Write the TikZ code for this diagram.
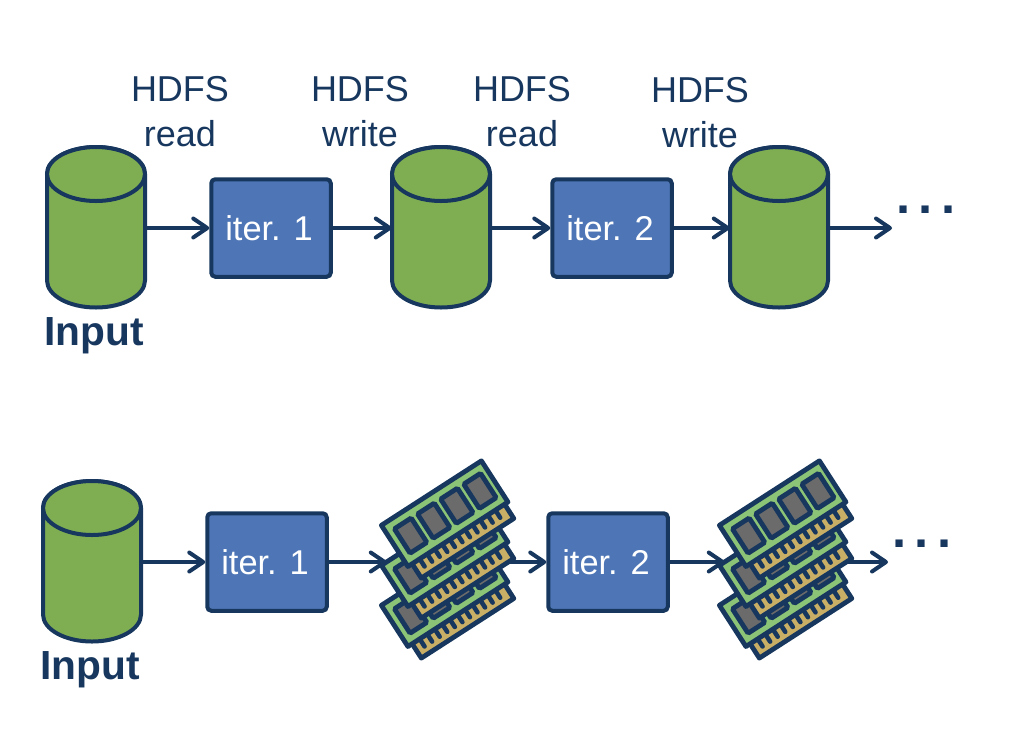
\documentclass[tikz,border=0pt]{standalone}
\usepackage{fontspec}
\setmainfont{Liberation Sans}
\usetikzlibrary{arrows.meta}
\definecolor{navy}{HTML}{17375E}
\definecolor{cylgreen}{HTML}{7FAE52}
\definecolor{iterblue}{HTML}{4E76B6}
\definecolor{boardgreen}{HTML}{8CC477}
\definecolor{chipgrey}{HTML}{6B6B6B}
\definecolor{contacttan}{HTML}{C9AE66}
\tikzset{
  x=0.75pt,y=-0.75pt,
  iterbox/.style={draw=navy,fill=iterblue,line width=3pt,rounded corners=3pt,minimum width=119.5*0.75pt,minimum height=97.5*0.75pt,inner sep=0pt,text=white,font=\fontsize{25.8}{30}\selectfont},
  cylanchor/.style={minimum width=98*0.75pt,minimum height=160*0.75pt,inner sep=0pt},
  ramanchor/.style={minimum width=120*0.75pt,minimum height=100*0.75pt,inner sep=0pt},
  cylshape/.style={draw=navy,fill=cylgreen,line width=3pt},
  flow/.style={draw=navy,line width=3pt,-{Straight Barb[length=14*0.75pt,width=19*0.75pt,line width=3pt,round]}},
  toplabel/.style={text=navy,align=center,font=\fontsize{27}{33.8}\selectfont},
  inputlabel/.style={text=navy,font=\bfseries\fontsize{30.5}{36}\selectfont,anchor=base},
  dotslabel/.style={text=navy,font=\bfseries\fontsize{38}{40}\selectfont,anchor=base},
  boardstyle/.style={draw=navy,fill=boardgreen,line width=3.6pt,line join=round},
  stripstyle/.style={draw=navy,fill=contacttan,line width=3.6pt,line join=round},
  chipstyle/.style={draw=navy,fill=chipgrey,line width=3.6pt,rounded corners=1pt},
  toothstyle/.style={draw=navy,line width=3.4pt,line cap=round},
}
\newcommand{\mycyl}[3]{%
  \node[cylanchor] (#1) at (#2,#3) {};
  \begin{scope}[shift={(#2,#3)}]
    \path[cylshape] (-49,-54) -- (-49,52.5) arc[start angle=180,end angle=0,x radius=49,y radius=27] -- (49,-54)
      arc[start angle=0,end angle=-180,x radius=49,y radius=27];
    \path[cylshape] (0,-54) ellipse[x radius=49,y radius=27];
  \end{scope}}
\newcommand{\mymodule}[2]{%
  \begin{scope}[shift={(#1,#2)},rotate=32.8]
    \path[stripstyle] (6,49) -- (6,67) -- (116,67) -- (116,49) -- cycle;
    \foreach \t in {15,24,...,112} {\draw[toothstyle] (\t,50) -- (\t,59);}
    \path[boardstyle] (1,1) rectangle (120,50);
    \foreach \c in {20,47.5,75,102.5} {\path[chipstyle] (\c-10,11) rectangle (\c+10,40);}
  \end{scope}}
\begin{document}
\begin{tikzpicture}
\useasboundingbox (0,0) rectangle (1012,744);
% top row
\mycyl{ca}{96}{228}
\node[iterbox] (ra) at (271,228) {iter. 1\kern 3pt};
\mycyl{cb}{441}{228}
\node[iterbox] (rb) at (612,228) {iter. 2\kern 3pt};
\mycyl{cc}{779}{228}
\coordinate (enda) at (892,228);
\draw[flow] (ca.east) -- (ra.west);
\draw[flow] (ra.east) -- (cb.west);
\draw[flow] (cb.east) -- (rb.west);
\draw[flow] (rb.east) -- (cc.west);
\draw[flow] (cc.east) -- (enda);
\node[toplabel] (la) at (180,112) {HDFS\\read};
\node[toplabel] (lb) at (360,112) {HDFS\\write};
\node[toplabel] (lc) at (522,112) {HDFS\\read};
\node[toplabel] (ld) at (700,113) {HDFS\\write};
\node[inputlabel] (ia) at (94,345) {Input};
\node[dotslabel] (da) at (926,213) {.\kern 6pt.\kern 6pt.};
% bottom row
\mycyl{cd}{92}{562}
\node[iterbox] (rc) at (267,562) {iter. 1\kern 3pt};
\node[iterbox] (rd) at (608,562) {iter. 2\kern 3pt};
\coordinate (endb) at (888,562);
\node[ramanchor] (mp) at (447,562) {};
\node[ramanchor] (mq) at (785,562) {};
\draw[flow] (cd.east) -- (rc.west);
\draw[flow] (mp.east) -- (rd.west);
\draw[flow] (mq.east) -- (endb);
\mymodule{380}{605}
\mymodule{380}{565}
\mymodule{380}{525}
\mymodule{718}{605}
\mymodule{718}{565}
\mymodule{718}{525}
\draw[flow] (rc.east) -- (mp.west);
\draw[flow] (rd.east) -- (mq.west);
\node[inputlabel] (ib) at (90,679) {Input};
\node[dotslabel] (db) at (922,547) {.\kern 6pt.\kern 6pt.};
\end{tikzpicture}
\end{document}
